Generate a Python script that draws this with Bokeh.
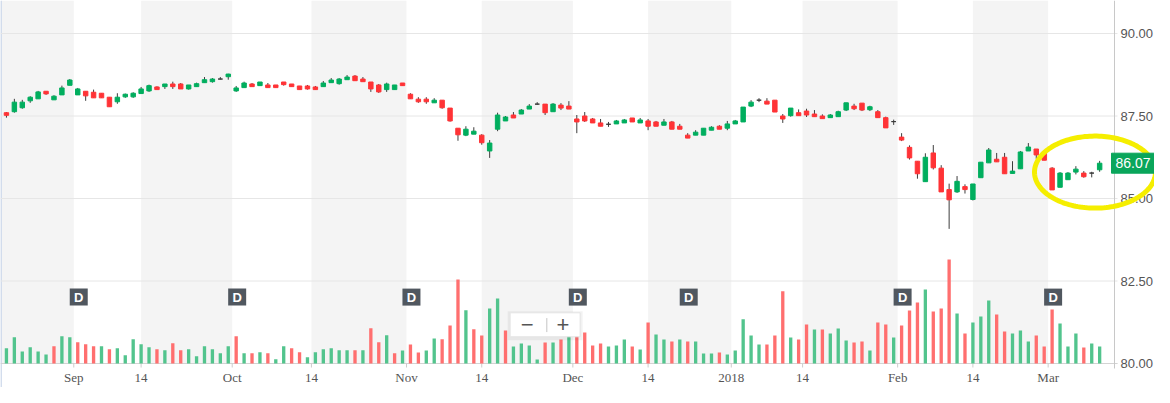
import numpy as np
from bokeh.plotting import figure
from bokeh.models import Range1d, BoxAnnotation, ColumnDataSource
from bokeh.core.properties import value
from bokeh.embed import file_html
from bokeh.resources import INLINE

# ---------------- data ----------------
opens = [87.60, 87.63, 87.75, 87.96, 88.02, 88.25, 87.99, 88.14, 88.43, 88.14,
         88.25, 88.22, 88.19, 88.07, 87.93, 88.08, 88.08, 88.18, 88.26, 88.38,
         88.39, 88.47, 88.47, 88.32, 88.39, 88.51, 88.54, 88.62, 88.69, 88.26,
         88.36, 88.47, 88.42, 88.44, 88.44, 88.53, 88.47, 88.41, 88.41, 88.38,
         88.39, 88.51, 88.48, 88.60, 88.71, 88.62, 88.53, 88.44, 88.30, 88.30,
         88.50, 88.16, 88.01, 88.01, 87.90, 87.98, 87.74, 87.13, 86.92, 86.95,
         86.92, 86.44, 87.10, 87.35, 87.53, 87.56, 87.71, 87.86, 87.86, 87.63,
         87.83, 87.80, 87.41, 87.50, 87.41, 87.29, 87.25, 87.26, 87.29, 87.44,
         87.29, 87.35, 87.32, 87.22, 87.32, 87.19, 86.92, 86.92, 86.92, 87.07,
         87.19, 87.13, 87.26, 87.32, 87.80, 87.98, 87.95, 87.98, 87.50, 87.51,
         87.60, 87.65, 87.56, 87.50, 87.45, 87.48, 87.68, 87.80, 87.89, 87.69,
         87.63, 87.45, 87.33, 86.86, 86.55, 86.13, 85.51, 86.38, 85.92, 85.27,
         85.20, 85.36, 84.97, 85.63, 86.08, 86.19, 86.25, 85.76, 85.90, 86.44,
         86.50, 86.41, 85.92, 85.34, 85.57, 85.80, 85.77, 85.77, 85.87]
highs = [87.62, 88.02, 87.99, 88.10, 88.26, 88.25, 88.13, 88.42, 88.62, 88.35,
         88.25, 88.30, 88.19, 88.07, 88.19, 88.18, 88.22, 88.38, 88.45, 88.40,
         88.47, 88.54, 88.50, 88.44, 88.51, 88.68, 88.65, 88.68, 88.78, 88.41,
         88.54, 88.50, 88.53, 88.50, 88.44, 88.53, 88.47, 88.41, 88.44, 88.41,
         88.56, 88.65, 88.65, 88.74, 88.74, 88.68, 88.53, 88.47, 88.51, 88.44,
         88.50, 88.19, 88.07, 88.07, 88.04, 87.98, 87.74, 87.13, 87.19, 87.16,
         86.95, 86.77, 87.60, 87.50, 87.62, 87.71, 87.86, 87.92, 87.86, 87.89,
         87.89, 87.95, 87.53, 87.62, 87.44, 87.41, 87.32, 87.38, 87.41, 87.44,
         87.44, 87.41, 87.35, 87.41, 87.35, 87.26, 86.98, 87.07, 87.13, 87.19,
         87.22, 87.35, 87.38, 87.77, 87.98, 88.04, 88.04, 87.98, 87.56, 87.74,
         87.70, 87.72, 87.68, 87.55, 87.56, 87.66, 87.90, 87.87, 87.89, 87.81,
         87.68, 87.48, 87.39, 86.98, 86.61, 86.13, 86.37, 86.62, 86.01, 85.45,
         85.68, 85.43, 85.44, 86.10, 86.53, 86.38, 86.38, 86.13, 86.44, 86.68,
         86.50, 86.44, 85.95, 85.80, 85.80, 85.98, 85.83, 85.81, 86.14]
lows = [87.45, 87.60, 87.72, 87.90, 88.02, 88.14, 87.99, 88.14, 88.43, 88.14,
        87.96, 88.05, 88.05, 87.78, 87.87, 88.05, 88.05, 88.18, 88.23, 88.30,
        88.32, 88.32, 88.32, 88.30, 88.38, 88.51, 88.51, 88.61, 88.60, 88.23,
        88.36, 88.39, 88.42, 88.36, 88.36, 88.42, 88.39, 88.30, 88.30, 88.30,
        88.39, 88.51, 88.45, 88.60, 88.57, 88.54, 88.23, 88.20, 88.23, 88.30,
        88.42, 88.02, 87.90, 87.87, 87.90, 87.72, 87.33, 86.75, 86.89, 86.95,
        86.63, 86.23, 87.04, 87.35, 87.44, 87.56, 87.71, 87.84, 87.53, 87.63,
        87.68, 87.71, 86.98, 87.32, 87.29, 87.19, 87.17, 87.26, 87.29, 87.32,
        87.29, 87.07, 87.19, 87.22, 87.10, 87.10, 86.83, 86.92, 86.92, 87.07,
        87.10, 87.07, 87.26, 87.32, 87.77, 87.92, 87.86, 87.62, 87.29, 87.48,
        87.51, 87.47, 87.48, 87.42, 87.45, 87.48, 87.65, 87.68, 87.65, 87.65,
        87.45, 87.14, 87.23, 86.74, 86.18, 85.60, 85.51, 85.88, 85.20, 84.08,
        85.17, 85.15, 84.94, 85.63, 86.08, 86.11, 85.75, 85.76, 85.90, 86.44,
        86.20, 86.16, 85.26, 85.34, 85.57, 85.73, 85.63, 85.64, 85.81]
closes = [87.52, 87.92, 87.92, 88.07, 88.23, 88.17, 88.10, 88.35, 88.59, 88.32,
          88.11, 88.05, 88.05, 87.78, 88.07, 88.16, 88.19, 88.32, 88.42, 88.30,
          88.47, 88.39, 88.32, 88.44, 88.48, 88.60, 88.62, 88.62, 88.77, 88.35,
          88.50, 88.39, 88.53, 88.36, 88.36, 88.45, 88.39, 88.30, 88.32, 88.30,
          88.50, 88.59, 88.62, 88.68, 88.57, 88.54, 88.32, 88.23, 88.47, 88.44,
          88.42, 88.02, 87.93, 87.93, 87.98, 87.75, 87.35, 86.93, 87.10, 87.04,
          86.69, 86.68, 87.53, 87.47, 87.44, 87.68, 87.80, 87.86, 87.60, 87.86,
          87.74, 87.71, 87.32, 87.35, 87.29, 87.19, 87.25, 87.35, 87.38, 87.32,
          87.38, 87.19, 87.19, 87.32, 87.10, 87.10, 86.83, 87.01, 87.13, 87.16,
          87.10, 87.26, 87.35, 87.77, 87.92, 87.98, 87.86, 87.62, 87.41, 87.74,
          87.51, 87.53, 87.48, 87.42, 87.53, 87.63, 87.90, 87.72, 87.68, 87.78,
          87.45, 87.14, 87.33, 86.77, 86.23, 85.75, 86.25, 85.93, 85.20, 84.96,
          85.52, 85.27, 85.44, 86.10, 86.47, 86.11, 85.75, 85.83, 86.41, 86.56,
          86.32, 86.16, 85.26, 85.77, 85.77, 85.89, 85.66, 85.77, 86.07]
volumes = [0.61, 1.05, 0.48, 0.65, 0.48, 0.36, 0.69, 1.09, 1.05, 0.85,
           0.77, 0.69, 0.69, 0.57, 0.61, 0.33, 0.97, 0.77, 0.65, 0.57,
           0.53, 0.81, 0.53, 0.57, 0.29, 0.69, 0.57, 0.41, 0.69, 1.09,
           0.41, 0.41, 0.45, 0.41, 0.17, 0.69, 0.61, 0.45, 0.25, 0.45,
           0.57, 0.61, 0.53, 0.53, 0.53, 0.53, 1.41, 0.85, 1.13, 0.41,
           0.52, 0.76, 0.44, 0.52, 1.00, 0.97, 1.52, 3.36, 2.13, 1.37,
           1.12, 2.20, 2.60, 1.32, 0.68, 0.80, 0.72, 0.16, 0.84, 0.84,
           0.96, 1.20, 1.24, 1.24, 0.72, 0.80, 0.68, 0.72, 0.96, 0.68,
           0.56, 1.64, 1.16, 0.96, 0.88, 0.96, 0.88, 0.88, 0.40, 0.40,
           0.44, 0.36, 0.52, 1.77, 1.12, 0.76, 0.76, 1.12, 2.89, 1.04,
           0.96, 1.56, 1.36, 1.36, 1.20, 1.40, 0.92, 0.84, 0.88, 0.52,
           1.64, 1.56, 1.04, 1.52, 2.12, 2.44, 2.96, 2.08, 2.20, 4.16,
           2.00, 1.20, 1.64, 1.88, 2.52, 1.96, 1.28, 1.20, 1.32, 0.88,
           1.12, 0.68, 2.16, 1.60, 0.68, 1.20, 0.64, 0.80, 0.68]
vol_up = [1, 1, 1, 1, 1, 1, 0, 1, 1, 0, 0, 0, 1, 0, 1, 1, 1, 1, 1, 0,
          1, 0, 0, 1, 1, 1, 1, 1, 1, 0, 1, 0, 1, 0, 1, 1, 0, 0, 1, 1,
          1, 1, 1, 1, 0, 1, 0, 0, 1, 0,
          1, 0, 0, 1, 1, 0, 0, 0, 1, 0, 0, 1, 1, 0, 1, 1, 1, 1, 0, 1,
          0, 1, 0, 0, 0, 0, 1, 1, 1, 0, 1, 0, 1, 1, 0, 1, 0, 1, 1, 1,
          0, 1, 1, 1, 1, 1, 0, 0, 0, 1,
          0, 0, 1, 0, 1, 1, 1, 0, 0, 1, 0, 0, 1, 0, 0, 0, 1, 0, 0, 0,
          1, 0, 1, 1, 1, 0, 0, 1, 1, 1, 0, 0, 0, 1, 1, 1, 0, 1, 1]
tick_pos = [8.5, 17, 28.5, 38.5, 50.5, 60, 71.5, 81, 91.5, 100.5, 112.5, 122, 131.5]
tick_labels = ["Sep", "14", "Oct", "14", "Nov", "14", "Dec", "14", "2018", "14", "Feb", "14", "Mar"]
div_idx = [9, 29, 51, 72, 86, 113, 132]
price_ticks = [80, 82.5, 85, 87.5, 90]

# ---------------- layout constants ----------------
W, H = 1154, 387
n = len(closes)
X0 = -0.75                 # left edge of the canvas, in bar units
AX = n + 0.875             # position of the price-axis line, in bar units
AX_PX = 1114               # pixel position of the price-axis line
PPX = AX_PX / (AX - X0)    # pixels per bar
X1 = X0 + W / PPX
Y1 = 91.0                  # price at the top of the canvas
PPY = 33.0                 # pixels per price unit
Y0 = Y1 - H / PPY
VPX = 25.0                 # pixels per volume unit
V1 = (Y1 - 80) * PPY / VPX
V0 = V1 - H / VPX
BASE = price_ticks[0]

def dx(px):
    return px / PPX

def dy(px):
    return px / PPY

GREEN, RED, DOJI = "#00ae5e", "#ff3336", "#3a3a3a"
VGREEN, VRED = "#52c48d", "#ff6f6f"
BAND = "#f4f4f4"

idx = list(range(n))
body_top = [max(o, c) for o, c in zip(opens, closes)]
body_bot = [min(o, c) for o, c in zip(opens, closes)]
body_col = [GREEN if c > o else (RED if c < o else DOJI) for o, c in zip(opens, closes)]
vol_col = [VGREEN if u else VRED for u in vol_up]

src = ColumnDataSource(dict(x=idx, o=opens, h=highs, l=lows, c=closes,
                            bt=body_top, bb=body_bot, col=body_col,
                            vol=volumes, vcol=vol_col))

p = figure(width=W, height=H, x_range=Range1d(X0, X1), y_range=Range1d(Y0, Y1),
           x_axis_location=None, y_axis_location=None,
           toolbar_location=None, output_backend="svg",
           min_border_left=0, min_border_top=0, min_border_right=0, min_border_bottom=0,
           background_fill_color="white", border_fill_color="white",
           outline_line_color=None)
p.extra_y_ranges = {"vol": Range1d(V0, V1)}
p.grid.visible = False

# alternating bands between the date ticks
edges = [X0] + tick_pos + [AX]
bands = []
for k in range(0, len(edges) - 1, 2):
    bands.append(BoxAnnotation(left=edges[k], right=edges[k + 1], bottom=BASE,
                               fill_color=BAND, fill_alpha=1.0, line_alpha=0,
                               level="underlay"))
p.center = bands + list(p.center)

# left container border
p.segment(x0=[X0 + dx(0.6)], y0=[Y0], x1=[X0 + dx(0.6)], y1=[Y1],
          line_color="#cbd7ea", line_width=1.5)

# horizontal price grid lines (ending with a short tick past the axis line)
p.segment(x0=[X0] * len(price_ticks), y0=price_ticks,
          x1=[AX + dx(3)] * len(price_ticks), y1=price_ticks,
          line_color="#e6e6e6", line_width=1)
# bottom (date) axis line and ticks
p.segment(x0=[X0], y0=[BASE], x1=[AX + dx(3)], y1=[BASE], line_color="#d3d3d3", line_width=1)
p.segment(x0=tick_pos, y0=[BASE] * len(tick_pos), x1=tick_pos,
          y1=[BASE - dy(4)] * len(tick_pos), line_color="#cccccc", line_width=1)
p.text(x=tick_pos, y=[BASE - dy(14)] * len(tick_pos), text=tick_labels,
       text_align="center", text_baseline="middle", text_font=value("Liberation Serif"),
       text_font_size="13px", text_color="#555555")
# right (price) axis line and labels
p.segment(x0=[AX], y0=[BASE - dy(5)], x1=[AX], y1=[Y1], line_color="#c8c8c8", line_width=1)
p.text(x=[AX] * len(price_ticks), y=price_ticks, text=[f"{v:.2f}" for v in price_ticks],
       x_offset=6, text_align="left", text_baseline="middle",
       text_font=value("Liberation Sans"), text_font_size="13px", text_color="#555555")

# volume
p.vbar(x="x", top="vol", bottom=0, width=0.42, fill_color="vcol", line_color=None,
       y_range_name="vol", source=src)

# candles
p.segment(x0="x", y0="h", x1="x", y1="l", line_color="#3d3d3d", line_width=1, source=src)
p.vbar(x="x", top="bt", bottom="bb", width=0.56, fill_color="col", line_color="col",
       line_width=1, source=src)

# dividend markers
div_y = [2.656] * len(div_idx)
p.rect(x=[d + dx(1) for d in div_idx], y=div_y, width=18, height=17,
       width_units="screen", height_units="screen",
       fill_color="#50575f", line_color=None, y_range_name="vol")
p.text(x=[d + dx(1) for d in div_idx], y=div_y, text=["D"] * len(div_idx),
       text_align="center", text_baseline="middle", text_font=value("Liberation Sans"),
       text_font_style="bold", text_font_size="13px", text_color="white", y_range_name="vol")

# zoom control
zx, zy = 68.0, 1.548
p.rect(x=[zx], y=[zy - 0.04], width=75, height=29, width_units="screen", height_units="screen",
       fill_color="#000000", fill_alpha=0.05, line_color=None, y_range_name="vol")
p.rect(x=[zx], y=[zy], width=70, height=24, width_units="screen", height_units="screen",
       fill_color="white", line_color="#e4e4e4", y_range_name="vol")
p.segment(x0=[zx + dx(1.7)], y0=[1.256], x1=[zx + dx(1.7)], y1=[1.816], line_color="#c4c4c4",
          line_width=1, y_range_name="vol")
p.text(x=[zx - dx(18), zx + dx(17.7)], y=[zy, zy], text=["\u2212", "+"], text_align="center",
       text_baseline="middle", text_font=value("Liberation Sans"), text_font_size="22px",
       text_color="#555555", y_range_name="vol")

# yellow highlight ellipse around the last bars
t = np.linspace(0, 2 * np.pi, 160)
ecx, ecy = AX - dx(19.5), 85.80
ex = (ecx + dx(60.5) * np.cos(t)).tolist()
ey = (ecy + dy(36) * np.sin(t)).tolist()
p.patch(ex, ey, fill_alpha=0, line_color="#f5ee00", line_width=5)

# last price tag
last = closes[-1]
lx = AX + dx(18.5)
p.rect(x=[lx], y=[last], width=43, height=20, width_units="screen", height_units="screen",
       fill_color="#0aa65b", line_color="#0aa65b")
p.text(x=[lx], y=[last], text=[f"{last:.2f}"], text_align="center", text_baseline="middle",
       text_font=value("Liberation Sans"), text_font_size="14px", text_color="white")

with open("out.html", "w", encoding="utf-8") as f:
    f.write(file_html(p, INLINE))
